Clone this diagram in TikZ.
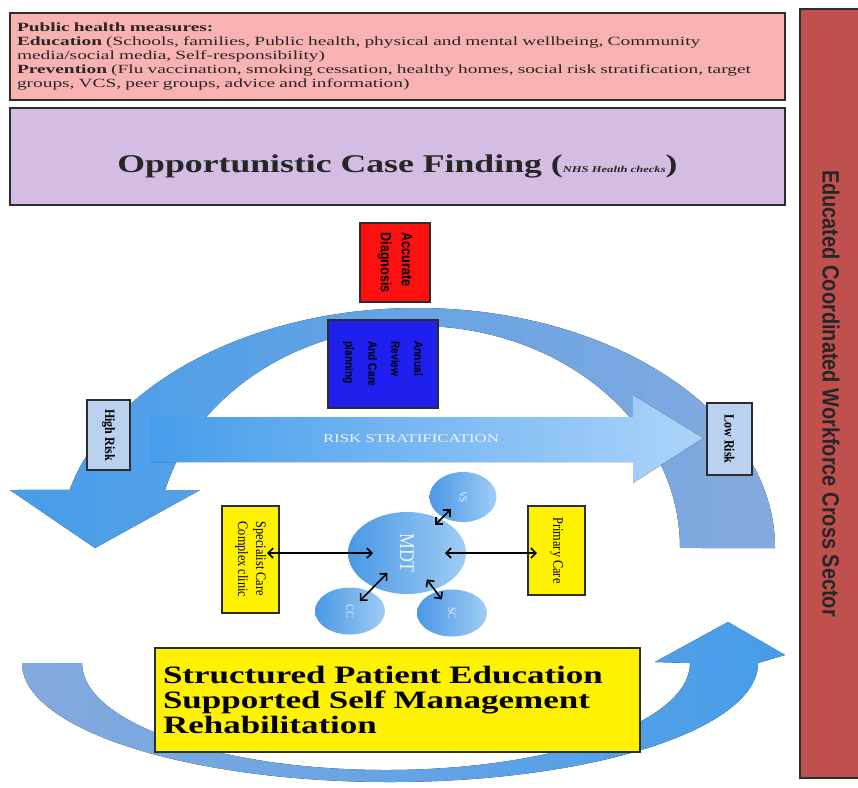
\documentclass[tikz,border=0pt]{standalone}
\usepackage{fontspec}
\setmainfont{Liberation Serif}
\usetikzlibrary{arrows.meta,shapes.geometric}

\newfontfamily\wideserif{Liberation Serif}[FakeStretch=1.4]
\newfontfamily\widerserif{Liberation Serif}[FakeStretch=1.55]
\newfontfamily\tallserif{Liberation Serif}[FakeStretch=0.85]
\newfontfamily\tallsans{Liberation Sans}[FakeStretch=0.85]

\definecolor{pinkfill}{RGB}{248,178,178}
\definecolor{lilacfill}{RGB}{212,188,226}
\definecolor{sectorred}{RGB}{192,80,77}
\definecolor{diagred}{RGB}{252,16,16}
\definecolor{reviewblue}{RGB}{32,32,238}
\definecolor{riskpale}{RGB}{186,210,240}
\definecolor{edgegrey}{RGB}{45,45,45}
\definecolor{arcvivid}{RGB}{70,157,234}
\definecolor{arcdull}{RGB}{132,170,222}
\definecolor{arrowpale}{RGB}{172,212,250}
\definecolor{bubbledark}{RGB}{74,152,230}
\definecolor{bubblelight}{RGB}{160,204,244}
\definecolor{labelpale}{RGB}{236,243,252}

\begin{document}
\begin{tikzpicture}[
		x=1pt, y=1pt,
		box/.style={draw=edgegrey, line width=1.3pt, inner sep=0pt},
		wide/.style={box, line width=1.8pt, minimum width=775, text=black!85},
		upright/.style={box, rotate=-90, align=left},
		bubble/.style={ellipse, left color=bubbledark, right color=bubblelight, inner sep=0pt, text=labelpale},
		twoway/.style={{Straight Barb[length=5pt,width=10pt]}-{Straight Barb[length=5pt,width=10pt]}, line width=1.6pt}
	]
  \useasboundingbox (0,0) rectangle (858,-787);

  \fill [left color=arcvivid, right color=arcdull] (775,-548) arc[start angle=0, end angle=166, x radius=358, y radius=240]
    -- (10,-490) -- (95,-548) -- (200,-490) -- (165.05,-490.16)
    arc[start angle=164.9, end angle=0, x radius=262, y radius=222] -- cycle;
  \fill [left color=arcdull, right color=arcvivid] (22,-663) arc[start angle=180, end angle=360, x radius=368, y radius=119]
    -- (785,-655) -- (728,-622) -- (655,-662) -- (690,-663)
    arc[start angle=0, end angle=-180, x radius=304, y radius=107] -- cycle;
  \fill [left color=arcvivid, right color=arrowpale] (150,-417) -- (633,-417) -- (633,-395) -- (703,-438)
    -- (633,-483) -- (633,-462) -- (150,-462) -- cycle;

  \node (measures) [wide, fill=pinkfill, minimum height=87, align=left, text width=761, inner xsep=7pt,
    font=\widerserif\fontsize{12.5}{14.2}\selectfont] at (397.5,-56.5)
    {\textbf{Public health measures:}\\
     \textbf{Education} (Schools, families, Public health, physical and mental wellbeing, Community\\
     media/social media, Self-responsibility)\\
     \textbf{Prevention} (Flu vaccination, smoking cessation, healthy homes, social risk stratification, target\\
     groups, VCS, peer groups, advice and information)};
  \node (finding) [wide, fill=lilacfill, minimum height=97, text height=37pt, text depth=6pt,
    font=\wideserif\bfseries\fontsize{25.5}{30}\selectfont] at (397.5,-156.5)
    {Opportunistic Case Finding ({\fontsize{9}{10}\selectfont\itshape NHS Health checks})};
  \node (sector) [box, rotate=-90, fill=sectorred, minimum width=769, minimum height=62, text=black!85,
    font=\tallsans\bfseries\fontsize{23.5}{26}\selectfont] at (831,-393.5) {Educated Coordinated Workforce Cross Sector};

  \node (diagnosis) [upright, fill=diagred, minimum width=79, minimum height=70,
    font=\tallsans\bfseries\fontsize{14.8}{21}\selectfont] at (395,-262.5) {Accurate\\Diagnosis};
  \node (review) [upright, fill=reviewblue, minimum width=88, minimum height=110,
    font=\tallsans\bfseries\fontsize{12}{23}\selectfont] at (383,-364) {Annual\\Review\\And Care\\planning};
  \node (strat) [font=\wideserif\fontsize{12}{14}\selectfont, text=labelpale] at (411,-439) {RISK STRATIFICATION};
  \node (high) [upright, fill=riskpale, minimum width=70, minimum height=43,
    font=\tallserif\bfseries\fontsize{14.2}{17}\selectfont] at (108.5,-435) {High Risk};
  \node (low) [upright, fill=riskpale, minimum width=72, minimum height=45,
    font=\tallserif\bfseries\fontsize{14.2}{17}\selectfont] at (729.5,-439) {Low Risk};

  \node (specialist) [upright, fill=yellow, minimum width=107, minimum height=57,
    font=\tallserif\fontsize{14.5}{18}\selectfont] at (250.5,-559.5) {Specialist Care\\Complex clinic};
  \node (primary) [upright, fill=yellow, minimum width=89, minimum height=57,
    font=\tallserif\fontsize{14.5}{18}\selectfont] at (556.5,-550.5) {Primary Care};
  \node (mdt) [bubble, minimum width=118, minimum height=82, font=\tallserif\fontsize{21}{22}\selectfont] at (407,-553) {\rotatebox{-90}{MDT}};
  \node (vs) [bubble, minimum width=67, minimum height=50, font=\tallserif\fontsize{11}{12}\selectfont] at (463,-497) {\rotatebox{-90}{VS}};
  \node (cc) [bubble, minimum width=70, minimum height=47, font=\tallserif\fontsize{11}{12}\selectfont] at (350,-611) {\rotatebox{-90}{CC}};
  \node (sc) [bubble, minimum width=70, minimum height=47, font=\tallserif\fontsize{11}{12}\selectfont] at (452,-613) {\rotatebox{-90}{SC}};

  \draw [twoway, shorten <=16.5pt, shorten >=34pt] (specialist.center |- mdt.center) -- (mdt.center);
  \draw [twoway, shorten <=38pt, shorten >=19.5pt] (mdt.center) -- (primary.center |- mdt.center);
  \draw [twoway, shorten <=40pt, shorten >=17pt] (mdt.center) -- (vs.center);
  \draw [twoway, shorten <=28pt, shorten >=14pt] (mdt.center) -- (cc.center);
  \draw [twoway, shorten <=33pt, shorten >=17pt] (mdt.center) -- (sc.center);

  \node (education) [box, fill=yellow, minimum width=485, minimum height=104, align=left, text width=469, inner xsep=8pt,
    font=\wideserif\bfseries\fontsize{25}{25}\selectfont] at (397.5,-700)
    {Structured Patient Education\\Supported Self Management\\Rehabilitation};
\end{tikzpicture}
\end{document}
